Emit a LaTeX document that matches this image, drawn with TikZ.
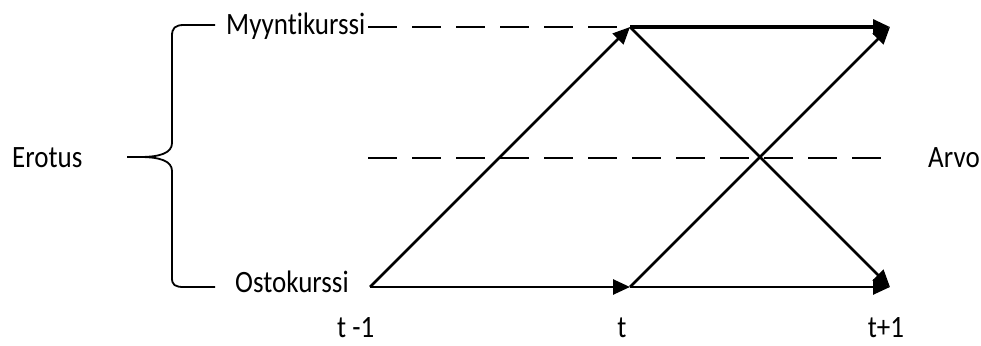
\documentclass[tikz,border=0pt]{standalone}
\usepackage{fontspec}
\setmainfont{Carlito}[Ligatures=NoCommon]
\usepackage{graphicx}
\usepackage{xcolor}
\usepackage{tikz}
\usetikzlibrary{arrows.meta}
\definecolor{KurssiInk}{RGB}{0,0,0}
\newcommand{\venyta}[1]{\scalebox{1}[1.15]{#1}}
\tikzset{
  kurssi/.style={draw=KurssiInk, line width=2.6pt,
                 -{Triangle[length=17pt,width=15pt]}},
  tasoviiva/.style={draw=KurssiInk, line width=2.4pt,
                    dash pattern=on 29pt off 15pt},
  sulku/.style={draw=KurssiInk, line width=1.8pt},
  teksti/.style={text=KurssiInk, inner sep=0pt,
                 font=\fontsize{27}{32}\selectfont}
}

\begin{document}
\begin{tikzpicture}[x=1pt,y=-1pt]
      \useasboundingbox (0,0) rectangle (981,345);
      % time points of the two rates
      \coordinate (osto0)   at (370,287);
      \coordinate (osto1)   at (630,287);
      \coordinate (osto2)   at (890,287);
      \coordinate (myynti1) at (630,27);
      \coordinate (myynti2) at (890,27);
      % dashed levels
      \coordinate (ylaA) at (368,27);
      \coordinate (ylaB) at (618,27);
      \coordinate (keskiA) at (368,158);
      \coordinate (keskiB) at (882,158);
      \draw[tasoviiva] (ylaA) -- (ylaB);
      \draw[tasoviiva] (keskiA) -- (keskiB);
      % arrows between the rates
      \draw[kurssi] (osto0) -- (osto1);
      \draw[kurssi] (osto0) -- (myynti1);
      \draw[kurssi] (osto1) -- (osto2);
      \draw[kurssi] (osto1) -- (myynti2);
      \draw[kurssi] (myynti1) -- (osto2);
      \draw[kurssi, line width=3.2pt] (myynti1) -- (myynti2);
      % brace — the gap between the two rates
      \draw[sulku]
        (215,25) -- (184,25)
        .. controls (175,25) and (172,28) .. (172,36)
        -- (172,143)
        .. controls (172,153) and (160,157) .. (140,157)
        -- (127,157);
      \draw[sulku]
        (140,157)
        .. controls (160,157) and (172,161) .. (172,171)
        -- (172,278)
        .. controls (172,285) and (175,287) .. (184,287)
        -- (215,287);
      % labels
      \node[teksti, anchor=base west] (myynti) at (226,35)  {\venyta{Myyntikurssi}};
      \node[teksti, anchor=base west] (osto)   at (235,292) {\venyta{Ostokurssi}};
      \node[teksti, anchor=base west] (erotus) at (12,167)  {\venyta{Erotus}};
      \node[teksti, anchor=base west] (arvo)   at (928,167) {\venyta{Arvo}};
      \node[teksti, anchor=base west] (tm1)    at (337,337) {\venyta{t -1}};
      \node[teksti, anchor=base]      (t0)     at (622,337) {\venyta{t}};
      \node[teksti, anchor=base]      (tp1)    at (886,337) {\venyta{t+1}};
    \end{tikzpicture}
\end{document}
